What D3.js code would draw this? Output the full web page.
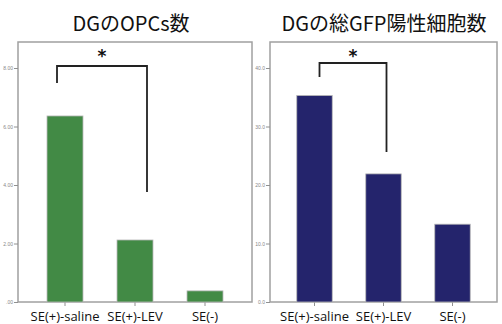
<!DOCTYPE html>
<html>
<head>
<meta charset="utf-8">
<script src="https://cdn.jsdelivr.net/npm/d3@7"></script>
<style>
  html, body { margin: 0; padding: 0; background: #fff; }
  svg { display: block; }
</style>
</head>
<body>
<svg id="chart" width="502" height="324"></svg>
<script>
// Groups on the x axis (shared by both panels)
const categories = ["SE(+)-saline", "SE(+)-LEV", "SE(-)"];

// Panel 1: OPC count in the dentate gyrus
const opcTitle = "DGのOPCs数";
const opcValues = [6.36, 2.12, 0.38];
const opcTicks = [0, 2, 4, 6, 8];
const opcTickLabels = [".00", "2.00", "4.00", "6.00", "8.00"];

// Panel 2: total GFP-positive cells in the dentate gyrus
const gfpTitle = "DGの総GFP陽性細胞数";
const gfpValues = [35.3, 21.9, 13.3];
const gfpTicks = [0, 10, 20, 30, 40];
const gfpTickLabels = ["0.0", "10.0", "20.0", "30.0", "40.0"];

// Significance marker between the first two groups
const sigPair = [0, 1];
const sigLabel = "*";

const svg = d3.select("#chart");

function panel(opt) {
  const g = svg.append("g");
  const top = 42, bottom = 302, topTickY = 68;

  // top tick sits a little below the frame top
  const y = d3.scaleLinear()
    .domain([0, opt.ticks[opt.ticks.length - 1]])
    .range([bottom, topTickY]);

  const x = d3.scaleBand()
    .domain(categories)
    .range([opt.left + opt.inset, opt.right - opt.inset])
    .paddingInner(0.486)
    .paddingOuter(0.243);

  // frame
  g.append("rect")
    .attr("x", opt.left).attr("y", top)
    .attr("width", opt.right - opt.left).attr("height", bottom - top)
    .attr("fill", "none").attr("stroke", "#a0a0a0").attr("stroke-width", 1.5);

  // title
  g.append("text")
    .attr("x", opt.titleX).attr("y", 31)
    .attr("text-anchor", "middle")
    .attr("font-family", "'Noto Sans CJK JP', 'Noto Sans', sans-serif")
    .attr("font-size", opt.titleSize)
    .attr("font-weight", 400)
    .attr("fill", "#111")
    .text(opt.title);

  // y axis
  const yAxis = d3.axisLeft(y)
    .tickValues(opt.ticks)
    .tickSize(4)
    .tickFormat((d, i) => opt.tickLabels[i]);
  const ya = g.append("g").attr("transform", `translate(${opt.left},0)`).call(yAxis);
  ya.select(".domain").remove();
  ya.selectAll("line").attr("stroke", "#909090");
  ya.selectAll("text")
    .attr("font-family", "Arial, 'Liberation Sans', sans-serif")
    .attr("font-size", 5).attr("fill", "#888").attr("x", -5);

  // x axis ticks and labels
  const xAxis = d3.axisBottom(x).tickSize(4).tickFormat("");
  const xa = g.append("g").attr("transform", `translate(0,${bottom})`).call(xAxis);
  xa.select(".domain").remove();
  xa.selectAll("line").attr("stroke", "#909090");

  g.append("g").selectAll("text").data(categories).join("text")
    .attr("x", d => x(d) + x.bandwidth() / 2)
    .attr("y", 321)
    .attr("text-anchor", "middle")
    .attr("font-family", "'Open Sans', 'Noto Sans', sans-serif")
    .attr("font-size", 13)
    .attr("fill", "#111")
    .text(d => d);

  // bars
  g.append("g").selectAll("rect").data(opt.values).join("rect")
    .attr("x", (d, i) => x(categories[i]))
    .attr("y", d => y(d))
    .attr("width", x.bandwidth())
    .attr("height", d => bottom - y(d))
    .attr("fill", opt.color)
    .attr("stroke", "#b8b8b8").attr("stroke-width", 0.8);

  // significance bracket
  const xa0 = x(categories[sigPair[0]]) + x.bandwidth() / 2 + opt.sig.dx0;
  const xa1 = x(categories[sigPair[1]]) + x.bandwidth() / 2 + opt.sig.dx1;
  const path = d3.path();
  path.moveTo(xa0, opt.sig.y0);
  path.lineTo(xa0, opt.sig.yTop);
  path.lineTo(xa1, opt.sig.yTop);
  path.lineTo(xa1, opt.sig.y1);
  g.append("path").attr("d", path.toString())
    .attr("fill", "none").attr("stroke", "#222").attr("stroke-width", 1.8);
  g.append("text")
    .attr("x", (xa0 + xa1) / 2).attr("y", 62)
    .attr("text-anchor", "middle")
    .attr("font-family", "'DejaVu Sans', sans-serif")
    .attr("font-weight", "bold")
    .attr("font-size", 17)
    .attr("fill", "#111")
    .text(sigLabel);
}

panel({
  title: opcTitle, titleX: 131, titleSize: 20,
  values: opcValues, ticks: opcTicks, tickLabels: opcTickLabels,
  left: 18, right: 252, inset: 12,
  color: "#428a45",
  sig: { dx0: -8, dx1: 12, yTop: 66, y0: 83, y1: 192 }
});

panel({
  title: gfpTitle, titleX: 384, titleSize: 20,
  values: gfpValues, ticks: gfpTicks, tickLabels: gfpTickLabels,
  left: 270, right: 497, inset: 10,
  color: "#24246c",
  sig: { dx0: 5, dx1: 3, yTop: 63, y0: 77, y1: 152 }
});
</script>
</body>
</html>
